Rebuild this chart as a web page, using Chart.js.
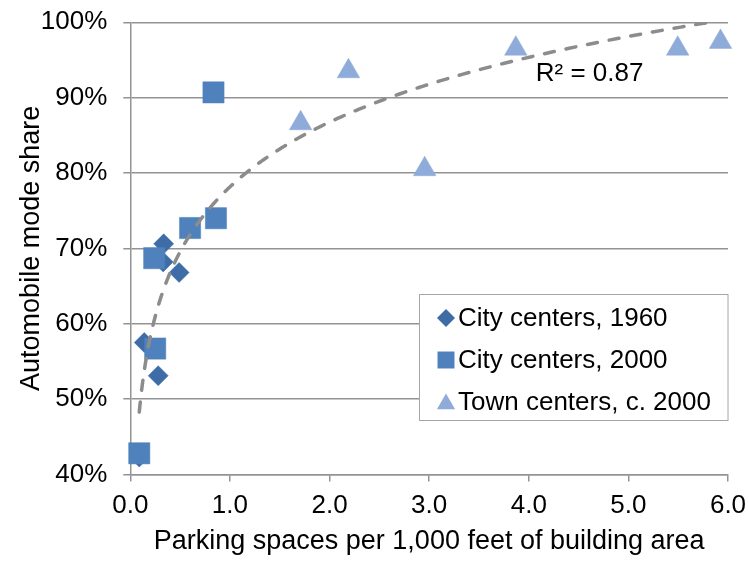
<!DOCTYPE html>
<html>
<head>
<meta charset="utf-8">
<script src="https://cdn.jsdelivr.net/npm/chart.js@4.4.1/dist/chart.umd.min.js"></script>
<style>
  html, body { margin: 0; padding: 0; background: #ffffff; }
  #wrap { width: 749px; height: 567px; }
</style>
</head>
<body>
<div id="wrap"><canvas id="chart" width="749" height="567"></canvas></div>
<script>
// Series names (legend order)
const seriesNames = ['City centers, 1960', 'City centers, 2000', 'Town centers, c. 2000'];

// Parking spaces per 1,000 ft of building area, and automobile mode share (%)
const city1960Parking = [0.09, 0.14, 0.28, 0.33, 0.335, 0.49];
const city1960Share   = [42.3, 57.5, 53.1, 68.2, 70.6, 66.8];

const city2000Parking = [0.09, 0.25, 0.24, 0.60, 0.86, 0.835];
const city2000Share   = [42.8, 56.7, 68.7, 72.7, 74.0, 90.7];

const townParking = [1.71, 2.19, 2.955, 3.87, 5.495, 5.925];
const townShare   = [86.6, 93.5, 80.5, 96.5, 96.5, 97.4];

// Axis ticks
const xTicks = [0, 1, 2, 3, 4, 5, 6];
const yTicks = [40, 50, 60, 70, 80, 90, 100];

// ---- styling ----
const FONT = "'Liberation Sans', Arial, Helvetica, sans-serif";
const TEXT_SIZE = 26;
const TITLE_SIZE = 27;
const GRID = '#939393';
const COLORS = ['#3d6ca6', '#4f81bd', '#8eabd9'];
const STYLES = [
  { pointStyle: 'rectRot',  radius: 10, legendRadius: 9 },
  { pointStyle: 'rect',     radius: 15, legendRadius: 12 },
  { pointStyle: 'triangle', radius: 13, legendRadius: 10.5 }
];

const toPoints = (xs, ys) => xs.map((x, i) => ({ x, y: ys[i] }));

// Logarithmic least-squares fit over every observation: y = a ln(x) + b
const allX = city1960Parking.concat(city2000Parking, townParking);
const allY = city1960Share.concat(city2000Share, townShare);
function logFit(xs, ys) {
  const n = xs.length;
  const L = xs.map(Math.log);
  const mL = L.reduce((s, v) => s + v, 0) / n;
  const mY = ys.reduce((s, v) => s + v, 0) / n;
  let sxy = 0, sxx = 0, syy = 0;
  for (let i = 0; i < n; i++) {
    sxy += (L[i] - mL) * (ys[i] - mY);
    sxx += (L[i] - mL) ** 2;
    syy += (ys[i] - mY) ** 2;
  }
  const a = sxy / sxx;
  return { a, b: mY - a * mL, r2: (sxy * sxy) / (sxx * syy) };
}
const fit = logFit(allX, allY);

// Sample the fitted curve across the observed range
const xMin = Math.min(...allX), xMax = Math.max(...allX);
const trendPoints = [];
for (let i = 0; i <= 240; i++) {
  const x = xMin * Math.pow(xMax / xMin, i / 240);
  trendPoints.push({ x, y: fit.a * Math.log(x) + fit.b });
}

const markerSets = [
  toPoints(city1960Parking, city1960Share),
  toPoints(city2000Parking, city2000Share),
  toPoints(townParking, townShare)
];

const datasets = markerSets.map((pts, i) => ({
  label: seriesNames[i],
  data: pts,
  pointStyle: STYLES[i].pointStyle,
  pointRadius: STYLES[i].radius,
  pointHoverRadius: STYLES[i].radius,
  backgroundColor: COLORS[i],
  borderColor: COLORS[i],
  pointBorderWidth: 0.5,
  showLine: false,
  clip: false,
  order: 3 - i
}));
datasets.push({
  label: 'Trend',
  data: trendPoints,
  showLine: true,
  pointRadius: 0,
  borderColor: '#8c8c8c',
  borderWidth: 3.5,
  borderDash: [10, 12],
  borderCapStyle: 'round',
  tension: 0,
  clip: 0,
  order: 0
});

// Position of the R² note, in data units (left edge, baseline)
const r2Anchor = { x: 4.07, y: 92.15 };

const overlayPlugin = {
  id: 'overlay',
  afterDraw(chart) {
    const { ctx, scales: { x, y } } = chart;
    ctx.save();

    // R² note
    ctx.font = `${TEXT_SIZE}px ${FONT}`;
    ctx.fillStyle = '#000';
    ctx.textAlign = 'left';
    ctx.textBaseline = 'alphabetic';
    ctx.fillText(`R\u00B2 = ${fit.r2.toFixed(2)}`, x.getPixelForValue(r2Anchor.x), y.getPixelForValue(r2Anchor.y));

    // Legend box inside the plot area
    const box = { left: 419.5, top: 294.5, right: chart.chartArea.right, bottom: 420.5 };
    ctx.fillStyle = '#ffffff';
    ctx.fillRect(box.left, box.top, box.right - box.left, box.bottom - box.top);
    ctx.strokeStyle = '#a6a6a6';
    ctx.lineWidth = 1;
    ctx.strokeRect(box.left, box.top, box.right - box.left, box.bottom - box.top);

    const rowY = [318, 360, 402];
    const markerX = 446;
    seriesNames.forEach((name, i) => {
      ctx.fillStyle = COLORS[i];
      ctx.strokeStyle = COLORS[i];
      Chart.helpers.drawPoint(ctx, {
        pointStyle: STYLES[i].pointStyle,
        radius: STYLES[i].legendRadius,
        rotation: 0,
        borderWidth: 0
      }, markerX, rowY[i] + (STYLES[i].pointStyle === 'triangle' ? 2 : 0));
      ctx.fillStyle = '#000';
      ctx.textBaseline = 'middle';
      ctx.fillText(name, 458, rowY[i] + 1);
    });
    ctx.restore();
  }
};

new Chart(document.getElementById('chart'), {
  type: 'scatter',
  data: { datasets },
  options: {
    responsive: false,
    animation: false,
    devicePixelRatio: 1,
    layout: { padding: { top: 22.3, right: 21, left: 0, bottom: 0 } },
    plugins: { legend: { display: false }, tooltip: { enabled: false } },
    font: { family: FONT },
    scales: {
      x: {
        type: 'linear',
        min: 0,
        max: 6,
        afterBuildTicks: s => { s.ticks = xTicks.map(v => ({ value: v })); },
        afterFit: s => { s.height = 92.6; s.paddingLeft = 0; s.paddingRight = 0; },
        ticks: {
          callback: v => Number(v).toFixed(1),
          font: { family: FONT, size: TEXT_SIZE },
          color: '#000',
          padding: 9,
          maxRotation: 0,
          autoSkip: false
        },
        grid: { drawOnChartArea: false, drawTicks: true, tickLength: 7, color: GRID, lineWidth: 1.5 },
        border: { display: true, color: GRID, width: 1.5 },
        title: {
          display: true,
          text: 'Parking spaces per 1,000 feet of building area',
          font: { family: FONT, size: TITLE_SIZE },
          color: '#000',
          padding: { top: 0, bottom: 9 }
        }
      },
      y: {
        type: 'linear',
        min: 40,
        max: 100,
        afterBuildTicks: s => { s.ticks = yTicks.map(v => ({ value: v })); },
        afterFit: s => { s.width = 130.3; s.paddingTop = 0; s.paddingBottom = 0; },
        ticks: {
          callback: v => v + '%',
          font: { family: FONT, size: TEXT_SIZE },
          color: '#000',
          padding: 16
        },
        grid: { drawTicks: true, tickLength: 7, color: GRID, lineWidth: 1.5 },
        border: { display: true, color: GRID, width: 1.5 },
        title: {
          display: true,
          text: 'Automobile mode share',
          font: { family: FONT, size: TITLE_SIZE },
          color: '#000',
          padding: { top: 15, bottom: 0 }
        }
      }
    }
  },
  plugins: [overlayPlugin]
});
</script>
</body>
</html>
